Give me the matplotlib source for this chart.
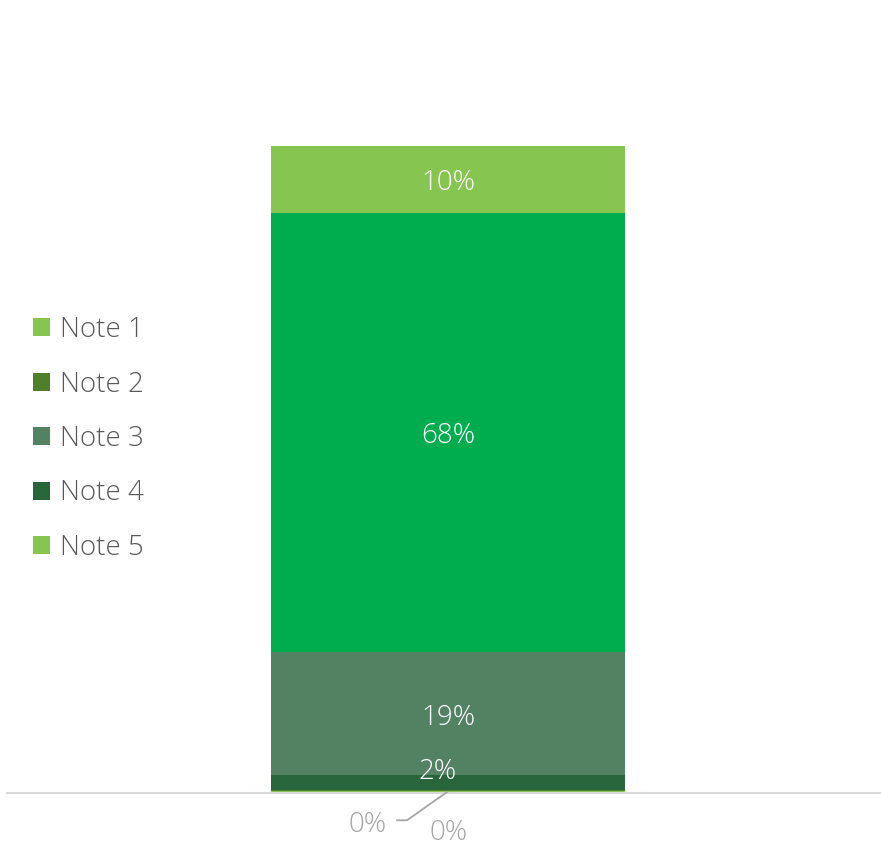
import matplotlib
matplotlib.use("Agg")
import matplotlib.pyplot as plt
from matplotlib.patches import Patch

plt.rcParams['font.family'] = ['Open Sans', 'DejaVu Sans']

# Stack segments from bottom to top
segment_names = ["Note 1", "Note 2", "Note 4", "Note 3", "Other", "Note 5"]
segment_values = [0.2, 0.1, 2.3, 18.9, 67.6, 10.3]
segment_colors = ["#86C54F", "#4E7F2A", "#28653B", "#528262", "#00AD4E", "#86C54F"]

legend_names = ["Note 1", "Note 2", "Note 3", "Note 4", "Note 5"]
legend_colors = ["#86C54F", "#4E7F2A", "#528262", "#28653B", "#86C54F"]

fig = plt.figure(figsize=(8.81, 8.46), dpi=100)
ax = fig.add_axes([7 / 881, 1 - 792 / 846, 873 / 881, 715 / 846])
ax.set_xlim(-1.246, 1.220)
ax.set_ylim(0, 110)
ax.axis("off")

bottom = 0.0
centers = []
for name, val, col in zip(segment_names, segment_values, segment_colors):
    ax.bar(0, val, width=1.0, bottom=bottom, color=col, linewidth=0)
    centers.append(bottom + val / 2)
    bottom += val

# baseline
ax.plot([-1.246, 1.220], [-0.12, -0.12], color="#D9D9D9", lw=1.5, clip_on=False)

label_color_in = "white"
fs = 20
fw = 300
dy = -0.6  # optical centring of the digits
# inside labels for the visible segments
for i in (3, 4, 5):
    ax.text(0, centers[i] + dy, f"{segment_values[i]:.0f}%", color=label_color_in,
            fontsize=fs, fontweight=fw, ha="center", va="center")
# small dark segment: label sits just above it
ax.text(-0.03, centers[2] + 1.6, f"{segment_values[2]:.0f}%", color=label_color_in,
        fontsize=fs, fontweight=fw, ha="center", va="center")

# zero-value labels below the axis with a leader line
gray = "#A6A6A6"
ax.text(-0.228, -5.1, f"{segment_values[0]:.0f}%", color=gray, fontsize=fs,
        fontweight=fw, ha="center", va="center", clip_on=False)
ax.plot([-0.144, -0.116, -0.003], [-4.35, -4.35, 0.0], color=gray, lw=1.3,
        clip_on=False)
ax.text(0.0, -6.3, f"{segment_values[1]:.0f}%", color=gray, fontsize=fs,
        fontweight=fw, ha="center", va="center", clip_on=False)

handles = [Patch(facecolor=c, edgecolor="none") for c in legend_colors]
fig.legend(handles, legend_names, loc="center left", bbox_to_anchor=(0.025, 0.4812),
           frameon=False, prop={"size": fs, "weight": fw}, labelcolor="#595959",
           handlelength=0.62, handleheight=0.62, handletextpad=0.33,
           labelspacing=0.95, borderaxespad=0)

fig.savefig("out.png", dpi=100)
